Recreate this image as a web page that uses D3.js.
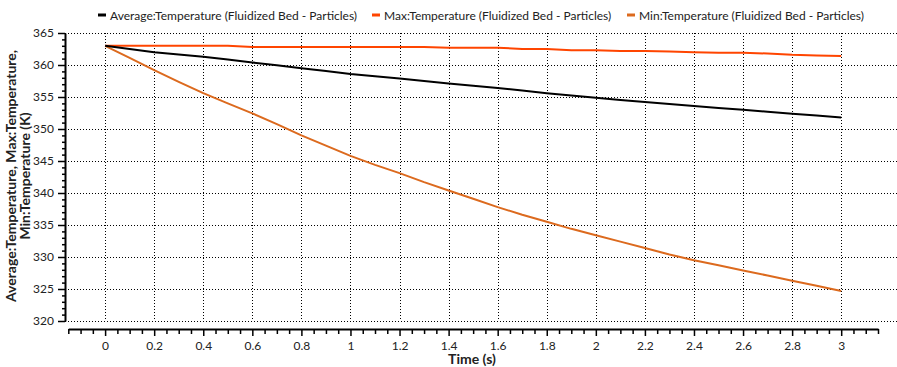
<!DOCTYPE html>
<html>
<head>
<meta charset="utf-8">
<script src="https://cdn.jsdelivr.net/npm/d3@7"></script>
<style>
  body { margin: 0; background: #fff; }
  svg { display: block; font-family: "Segoe UI", Lato, "Noto Sans", sans-serif; }
  .tick text { fill: #222; }
</style>
</head>
<body>
<div id="vis"></div>
<script>
// data (time in s, temperature in K)
const TIMES = [0, 0.1, 0.2, 0.3, 0.4, 0.5, 0.6, 0.7, 0.8, 0.9, 1.0,
               1.1, 1.2, 1.3, 1.4, 1.5, 1.6, 1.7, 1.8, 1.9, 2.0,
               2.1, 2.2, 2.3, 2.4, 2.5, 2.6, 2.7, 2.8, 2.9, 3.0];
const AVG_TEMP = [363.0, 362.5, 362.0, 361.65, 361.3, 360.85, 360.4, 359.95, 359.5, 359.05, 358.6,
                  358.25, 357.9, 357.5, 357.1, 356.75, 356.4, 356.0, 355.6, 355.25, 354.9,
                  354.55, 354.2, 353.9, 353.6, 353.3, 353.0, 352.7, 352.4, 352.1, 351.8];
const MAX_TEMP = [363.0, 363.0, 363.0, 363.0, 363.0, 363.0, 362.8, 362.8, 362.8, 362.8, 362.8,
                  362.8, 362.8, 362.8, 362.7, 362.7, 362.7, 362.5, 362.5, 362.3, 362.3,
                  362.2, 362.2, 362.1, 362.0, 361.9, 361.9, 361.8, 361.6, 361.5, 361.4];
const MIN_TEMP = [363.0, 361.1, 359.2, 357.35, 355.6, 354.0, 352.45, 350.75, 349.0, 347.4, 345.8,
                  344.4, 343.1, 341.7, 340.4, 339.1, 337.8, 336.6, 335.5, 334.4, 333.4,
                  332.4, 331.4, 330.4, 329.5, 328.7, 327.9, 327.1, 326.3, 325.5, 324.7];
const SERIES_NAMES = ["Average:Temperature (Fluidized Bed - Particles)",
                      "Max:Temperature (Fluidized Bed - Particles)",
                      "Min:Temperature (Fluidized Bed - Particles)"];
const SERIES_COLORS = ["#000000", "#ff4500", "#dc6a1e"];
const X_TICKS = [0, 0.2, 0.4, 0.6, 0.8, 1, 1.2, 1.4, 1.6, 1.8, 2, 2.2, 2.4, 2.6, 2.8, 3];
const Y_TICKS = [320, 325, 330, 335, 340, 345, 350, 355, 360, 365];

const WIDTH = 897;
const HEIGHT = 367;

const svg = d3.select("#vis")
  .append("svg")
    .attr("width", WIDTH)
    .attr("height", HEIGHT);

const X_SCALE = d3.scaleLinear().domain([-0.15, 3.15]).range([68.3, 878]);
const Y_SCALE = d3.scaleLinear().domain([320, 365]).range([321, 33]);

const Y_AXIS_X = 65;
const X_AXIS_Y = 329;
const GRID_RIGHT = 897;

// dotted grid
svg.append("g").selectAll("line")
  .data(Y_TICKS)
  .enter().append("line")
    .attr("x1", Y_AXIS_X).attr("x2", GRID_RIGHT)
    .attr("y1", d => Math.round(Y_SCALE(d)) + 0.5)
    .attr("y2", d => Math.round(Y_SCALE(d)) + 0.5)
    .attr("stroke", "#000").attr("stroke-width", 1)
    .attr("stroke-dasharray", "1,2");
svg.append("g").selectAll("line")
  .data(X_TICKS)
  .enter().append("line")
    .attr("x1", d => Math.round(X_SCALE(d)) + 0.5)
    .attr("x2", d => Math.round(X_SCALE(d)) + 0.5)
    .attr("y1", Y_SCALE(365)).attr("y2", Y_SCALE(320))
    .attr("stroke", "#000").attr("stroke-width", 1)
    .attr("stroke-dasharray", "1,2");

// y axis: major every 5, minor every 1
const yMinor = d3.range(320, 365.5, 1).filter(v => v % 5 !== 0);
svg.append("g")
    .attr("transform", "translate(" + Y_AXIS_X + ",0)")
    .call(d3.axisLeft(Y_SCALE).tickValues(yMinor).tickSize(3).tickFormat(""))
    .call(g => g.select(".domain").remove());
svg.append("g")
    .attr("transform", "translate(" + Y_AXIS_X + ",0)")
    .call(d3.axisLeft(Y_SCALE).tickValues(Y_TICKS).tickSize(7).tickPadding(4).tickSizeOuter(0))
    .attr("font-size", "12px")
    .attr("font-family", null);

// x axis: major every 0.2, minor every 0.05
const xMinor = d3.range(-3, 64).map(i => i * 0.05)
  .filter(v => Math.abs(v / 0.2 - Math.round(v / 0.2)) > 1e-6);
svg.append("g")
    .attr("transform", "translate(0," + X_AXIS_Y + ")")
    .call(d3.axisBottom(X_SCALE).tickValues(xMinor).tickSize(5).tickFormat(""))
    .call(g => g.select(".domain").remove());
svg.append("g")
    .attr("transform", "translate(0," + X_AXIS_Y + ")")
    .call(d3.axisBottom(X_SCALE).tickValues(X_TICKS).tickSize(7).tickPadding(5).tickSizeOuter(0)
      .tickFormat(d3.format("~g")))
    .attr("font-size", "12px")
    .attr("font-family", null);
svg.selectAll(".domain").attr("stroke-width", 2);
svg.selectAll(".tick line").attr("stroke-width", 1.5);

// series lines
const allSeries = [AVG_TEMP, MAX_TEMP, MIN_TEMP];
const line = d3.line()
  .x((d, i) => X_SCALE(TIMES[i]))
  .y(d => Y_SCALE(d));
// draw min first, then max, then average on top
[2, 1, 0].forEach(k => {
  svg.append("path")
    .datum(allSeries[k])
    .attr("d", line)
    .attr("fill", "none")
    .attr("stroke", SERIES_COLORS[k])
    .attr("stroke-width", 2)
    .attr("stroke-linejoin", "round");
});

// legend
const LEGEND_X = [98, 372, 627];
const legend = svg.append("g");
SERIES_NAMES.forEach((name, k) => {
  legend.append("line")
    .attr("x1", LEGEND_X[k]).attr("x2", LEGEND_X[k] + 8)
    .attr("y1", 15).attr("y2", 15)
    .attr("stroke", SERIES_COLORS[k]).attr("stroke-width", 3);
  legend.append("text")
    .attr("x", LEGEND_X[k] + 12).attr("y", 19.5)
    .attr("font-size", "12px")
    .attr("fill", "#222")
    .text(name);
});

// axis titles
svg.append("text")
  .attr("x", 472).attr("y", 364)
  .attr("text-anchor", "middle")
  .attr("font-size", "14px").attr("font-weight", "bold")
  .attr("fill", "#222")
  .text("Time (s)");
const yTitle = svg.append("text")
  .attr("transform", "translate(0,176) rotate(-90)")
  .attr("text-anchor", "middle")
  .attr("font-size", "14px").attr("font-weight", "bold")
  .attr("fill", "#222");
yTitle.append("tspan").attr("x", 0).attr("y", 15.5).text("Average:Temperature, Max:Temperature,");
yTitle.append("tspan").attr("x", 0).attr("y", 30).text("Min:Temperature (K)");
</script>
</body>
</html>
